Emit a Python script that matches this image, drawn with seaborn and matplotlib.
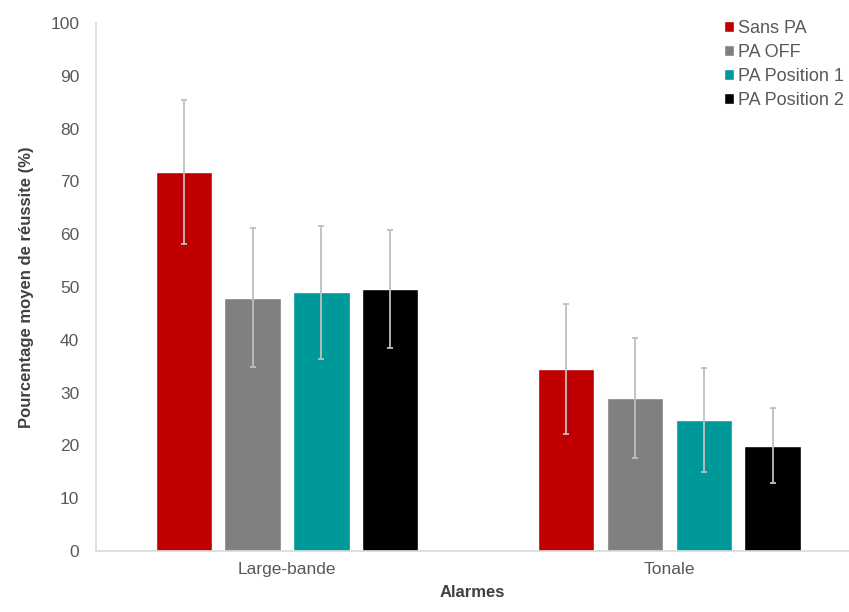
import numpy as np
import pandas as pd
import matplotlib
matplotlib.use("Agg")
import matplotlib.pyplot as plt
import seaborn as sns

# data
alarmes = ["Large-bande", "Tonale"]
conditions = ["Sans PA", "PA OFF", "PA Position 1", "PA Position 2"]
moyennes = {
    "Sans PA":       [71.8, 34.5],
    "PA OFF":        [48.0, 29.0],
    "PA Position 1": [49.0, 24.8],
    "PA Position 2": [49.6, 19.9],
}
ecarts = {
    "Sans PA":       [13.7, 12.3],
    "PA OFF":        [13.2, 11.3],
    "PA Position 1": [12.6, 9.9],
    "PA Position 2": [11.2, 7.1],
}
couleurs = ["#C00000", "#808080", "#009999", "#000000"]

rows = []
for c in conditions:
    for i, a in enumerate(alarmes):
        rows.append({"Alarmes": a, "Condition": c,
                     "Score": moyennes[c][i], "Err": ecarts[c][i]})
df = pd.DataFrame(rows)

sns.set_style("white")
plt.rcParams["font.family"] = ["Liberation Sans", "DejaVu Sans"]

fig = plt.figure(figsize=(8.49, 6.12), dpi=100)
ax = fig.add_axes([0.113, 0.0997, 0.887, 0.8627])

sns.barplot(data=df, x="Alarmes", y="Score", hue="Condition",
            hue_order=conditions, order=alarmes, palette=couleurs,
            width=0.72, gap=0.18, errorbar=None, ax=ax, saturation=1)

# error bars at the bar centres
for ci, c in enumerate(conditions):
    cont = ax.containers[ci]
    for bi, bar in enumerate(cont):
        xc = bar.get_x() + bar.get_width() / 2
        ax.errorbar(xc, bar.get_height(), yerr=ecarts[c][bi], fmt="none",
                    ecolor="#BFBFBF", elinewidth=1.3, capsize=2, capthick=1.3,
                    zorder=5)

ax.set_ylim(0, 100)
ax.set_yticks(np.arange(0, 101, 10))
ax.set_xlim(-0.5, 1.47)
ax.tick_params(axis="both", labelsize=12.5, colors="#595959", length=0)
ax.tick_params(axis="x", pad=8)
ax.tick_params(axis="y", pad=12)
ax.set_ylabel("Pourcentage moyen de réussite (%)", fontsize=12,
              fontweight="bold", color="#404040", labelpad=12)
ax.set_xlabel("Alarmes", fontsize=12, fontweight="bold", color="#404040",
              labelpad=6)

for s in ["top", "right"]:
    ax.spines[s].set_visible(False)
for s in ["left", "bottom"]:
    ax.spines[s].set_color("#D9D9D9")
    ax.spines[s].set_linewidth(1.2)

ax.legend(loc="upper right", bbox_to_anchor=(1.015, 1.036), frameon=False,
          fontsize=13, handlelength=0.55, handleheight=0.55, handletextpad=0.25,
          labelspacing=0.38, labelcolor="#595959", title=None)

fig.savefig("out.png", dpi=100)
